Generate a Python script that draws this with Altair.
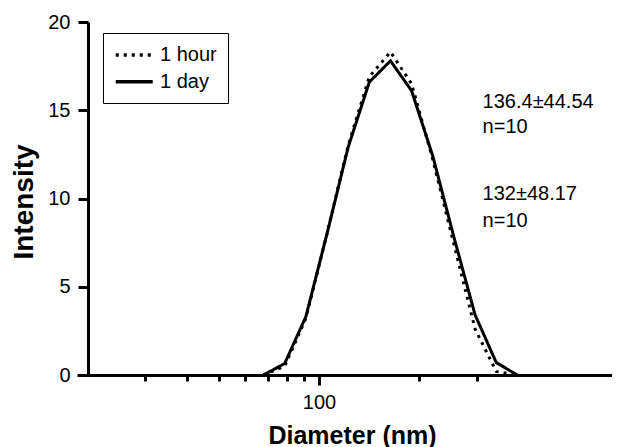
import altair as alt
import pandas as pd

# ---- data ----
diameters = [68.06, 78.82, 91.28, 105.7, 122.4, 141.8, 164.2, 190.1, 220.2, 255.0, 295.3, 342.0, 396.1]
intensity_1hour = [0, 0.5, 3.2, 8.0, 13.0, 16.9, 18.3, 16.5, 12.2, 7.4, 2.6, 0.2, 0]
intensity_1day = [0, 0.65, 3.3, 8.0, 12.9, 16.6, 17.8, 16.1, 12.4, 7.8, 3.4, 0.7, 0]
series_names = ["1 hour", "1 day"]

annotation_lines = ["136.4±44.54", "n=10", "132±48.17", "n=10"]
annotation_x = [311, 311, 311, 311]
annotation_y = [15.1, 13.7, 9.9, 8.4]

x_ticks = [30, 40, 50, 60, 70, 80, 90, 100, 200, 300]
y_ticks = [0, 5, 10, 15, 20]
x_domain = [18.67, 763]
y_domain = [0, 20]

FONT = "Liberation Sans"

rows = []
for name, vals in zip(series_names, [intensity_1hour, intensity_1day]):
    for d, v in zip(diameters, vals):
        rows.append({"diameter": d, "intensity": v, "series": name})
df = pd.DataFrame(rows)

ann_df = pd.DataFrame({"diameter": annotation_x, "intensity": annotation_y, "label": annotation_lines})

x_scale = alt.Scale(type="log", domain=x_domain, nice=False)
y_scale = alt.Scale(domain=y_domain, nice=False, zero=True)

x_axis = alt.Axis(
    values=x_ticks,
    labelExpr="datum.value == 100 ? '100' : ''",
    tickSize={"condition": {"test": "datum.value == 100", "value": 10}, "value": 6},
    labelOverlap=False, labelFlush=False, grid=False,
    domainColor="black", domainWidth=3, tickColor="black", tickWidth=3,
    labelFont=FONT, labelFontSize=20, labelColor="black", labelPadding=7,
    title="Diameter (nm)", titleFont=FONT, titleFontSize=25, titleFontWeight="bold",
    titleColor="black", titleBaseline="alphabetic", titleX=275, titleY=68,
)
y_axis = alt.Axis(
    values=y_ticks, offset=-11, grid=False,
    domainColor="black", domainWidth=3, tickColor="black", tickWidth=3, tickSize=10,
    labelFont=FONT, labelFontSize=20, labelColor="black", labelPadding=8,
    title="Intensity", titleFont=FONT, titleFontSize=28, titleFontWeight="bold",
    titleColor="black", titleAngle=270, titleAlign="center", titleBaseline="alphabetic",
    titleX=-56, titleY=179.5,
)

lines = alt.Chart(df).mark_line(color="black", strokeWidth=3, clip=True).encode(
    x=alt.X("diameter:Q", scale=x_scale, axis=x_axis),
    y=alt.Y("intensity:Q", scale=y_scale, axis=y_axis),
    strokeDash=alt.StrokeDash(
        "series:N", sort=series_names,
        scale=alt.Scale(domain=series_names, range=[[3, 5], [1, 0]]),
        legend=alt.Legend(
            title=None, orient="none", legendX=26, legendY=11,
            strokeColor="black", padding=11,
            symbolType="M-1,0H3", symbolSize=342, symbolStrokeWidth=3.5,
            symbolStrokeColor="black",
            labelFont=FONT, labelFontSize=20, labelColor="black",
            labelOffset=24, rowPadding=5.7,
        ),
    ),
)

text = alt.Chart(ann_df).mark_text(
    align="left", baseline="alphabetic", fontSize=20, font=FONT, color="black"
).encode(
    x=alt.X("diameter:Q", scale=x_scale),
    y=alt.Y("intensity:Q", scale=y_scale),
    text="label:N",
)

chart = alt.layer(lines, text).properties(
    width=535, height=353,
    autosize=alt.AutoSizeParams(type="none"),
    padding={"left": 69, "top": 14, "right": 0, "bottom": 72},
).configure_view(stroke=None)

chart.save("out.html", embed_options={"renderer": "svg", "actions": False})
